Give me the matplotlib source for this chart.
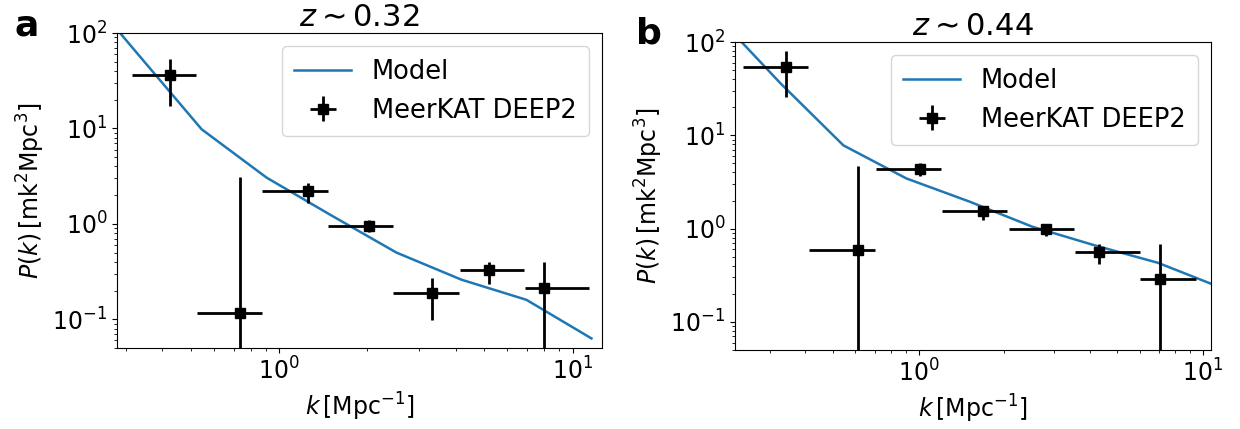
import numpy as np
import matplotlib.pyplot as plt

# model curves (log-spaced k grid)
model_k = [0.196, 0.327, 0.544, 0.906, 1.51, 2.51, 4.18, 6.96, 11.6]
model_a = [400, 62, 9.8, 3.05, 1.22, 0.50, 0.26, 0.16, 0.063]
model_b = [188, 36, 7.8, 3.45, 1.95, 1.05, 0.66, 0.43, 0.233]

# MeerKAT DEEP2 band powers, z ~ 0.32
k_a = [0.425, 0.738, 1.254, 2.02, 3.31, 5.21, 8.0]
k_a_lo = [0.314, 0.523, 0.875, 1.47, 2.45, 4.12, 6.87]
k_a_hi = [0.52, 0.872, 1.465, 2.44, 4.09, 6.83, 11.4]
p_a = [36, 0.116, 2.22, 0.953, 0.187, 0.329, 0.211]
p_a_lo = [17.0, 0.001, 1.65, 0.83, 0.098, 0.235, 0.001]
p_a_hi = [53.4, 3.09, 2.71, 1.10, 0.274, 0.403, 0.403]

# z ~ 0.44
k_b = [0.342, 0.611, 1.01, 1.685, 2.81, 4.33, 7.09]
k_b_lo = [0.241, 0.412, 0.708, 1.21, 2.08, 3.55, 6.03]
k_b_hi = [0.410, 0.702, 1.20, 2.05, 3.52, 6.01, 9.44]
p_b = [54.1, 0.597, 4.37, 1.53, 0.98, 0.558, 0.286]
p_b_lo = [25.5, 0.001, 3.62, 1.25, 0.84, 0.413, 0.001]
p_b_hi = [80.1, 4.74, 5.1, 1.73, 1.07, 0.69, 0.69]

W, H = 1240, 429
fig = plt.figure(figsize=(W / 100, H / 100), dpi=100)

def px_axes(l, t, r, b):
    return fig.add_axes([l / W, 1 - b / H, (r - l) / W, (b - t) / H])

panels = [
    (px_axes(117, 33, 602, 348), model_a, k_a, k_a_lo, k_a_hi, p_a, p_a_lo, p_a_hi,
     (0.28, 12.6), r"$z \sim 0.32$", "a", (14, 36)),
    (px_axes(735, 42, 1211, 350), model_b, k_b, k_b_lo, k_b_hi, p_b, p_b_lo, p_b_hi,
     (0.226, 10.7), r"$z \sim 0.44$", "b", (636, 43)),
]

for ax, model, k, klo, khi, p, plo, phi, xlim, title, letter, lpos in panels:
    k = np.array(k); p = np.array(p)
    xerr = [k - np.array(klo), np.array(khi) - k]
    yerr = [p - np.array(plo), np.array(phi) - p]
    ax.plot(model_k, model, color="#1f77b4", lw=1.8, label="Model")
    ax.errorbar(k, p, xerr=xerr, yerr=yerr, fmt="s", color="black",
                ms=7, elinewidth=2, capsize=0, label="MeerKAT DEEP2")
    ax.set_xscale("log")
    ax.set_yscale("log")
    ax.set_xlim(*xlim)
    ax.set_ylim(0.05, 100)
    ax.set_title(title, fontsize=22, pad=5)
    ax.set_xlabel(r"$k\,[\rm Mpc^{-1}]$", fontsize=17)
    ax.set_ylabel(r"$P(k)\,[\rm mk^2 Mpc^3]$", fontsize=17)
    ax.tick_params(labelsize=17)
    ax.legend(loc="upper right", fontsize=18.5, borderpad=0.5,
              handlelength=2.2)
    fig.text(lpos[0] / W, 1 - lpos[1] / H, letter, fontsize=26,
             fontweight="bold", va="baseline")

fig.savefig("out.png", dpi=100)
